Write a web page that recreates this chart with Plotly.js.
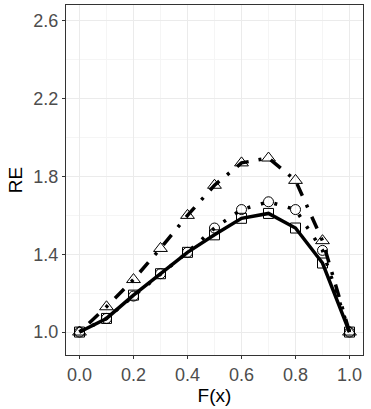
<!DOCTYPE html>
<html>
<head>
<meta charset="utf-8">
<script src="https://cdn.plot.ly/plotly-3.0.1.min.js"></script>
<style>
  html, body { margin: 0; padding: 0; background: #fff; }
  #plot { width: 371px; height: 409px; }
</style>
</head>
<body>
<div id="plot"></div>
<script>
// values
var fx = [0.0, 0.1, 0.2, 0.3, 0.4, 0.5, 0.6, 0.7, 0.8, 0.9, 1.0];
var reSquare   = [1.00, 1.07, 1.19, 1.30, 1.41, 1.50, 1.585, 1.61, 1.535, 1.355, 1.00];
var reCircle   = [1.00, 1.07, 1.185, 1.30, 1.41, 1.535, 1.63, 1.67, 1.63, 1.42, 1.00];
var reTriangle = [1.00, 1.13, 1.27, 1.43, 1.60, 1.755, 1.87, 1.895, 1.78, 1.47, 1.00];

var xTicks = [0.0, 0.2, 0.4, 0.6, 0.8, 1.0];
var xTickText = ["0.0", "0.2", "0.4", "0.6", "0.8", "1.0"];
var yTicks = [1.0, 1.4, 1.8, 2.2, 2.6];
var yTickText = ["1.0", "1.4", "1.8", "2.2", "2.6"];

function trace(y, dash, width, symbol, size) {
    return {
        x: fx,
        y: y,
        type: "scatter",
        mode: "lines+markers",
        line: { color: "#000", width: width, dash: dash },
        marker: {
            symbol: symbol,
            size: size,
            color: "#000",
            line: { color: "#000", width: 1 }
        },
        cliponaxis: false,
        showlegend: false
    };
}

var data = [
    trace(reSquare, "solid", 3.5, "square-open", 10),
    trace(reCircle, "3px,11px", 3.5, "circle-open", 10),
    trace(reTriangle, "3px,10px,13px,10px", 3.5, "triangle-up-open", 12)
];

var tickFont = { family: "Liberation Sans, Arial, sans-serif", size: 18, color: "#4D4D4D" };
var titleFont = { family: "Liberation Sans, Arial, sans-serif", size: 19, color: "#000" };

var layout = {
    width: 371,
    height: 409,
    margin: { l: 66, r: 8, t: 5, b: 54 },
    paper_bgcolor: "#fff",
    plot_bgcolor: "#fff",
    xaxis: {
        range: [-0.05, 1.05],
        tickvals: xTicks,
        ticktext: xTickText,
        tickfont: tickFont,
        ticks: "outside",
        ticklen: 3,
        tickcolor: "#333",
        showline: true,
        mirror: true,
        linecolor: "#333",
        linewidth: 1,
        showgrid: true,
        gridcolor: "#EBEBEB",
        gridwidth: 1,
        minor: { tickvals: [0.1, 0.3, 0.5, 0.7, 0.9], showgrid: true, gridcolor: "#F5F5F5", gridwidth: 1 },
        zeroline: false,
        title: { text: "F(x)", font: titleFont, standoff: 4 }
    },
    yaxis: {
        range: [0.882, 2.682],
        tickvals: yTicks,
        ticktext: yTickText,
        tickfont: tickFont,
        ticks: "outside",
        ticklen: 3,
        tickcolor: "#333",
        showline: true,
        mirror: true,
        linecolor: "#333",
        linewidth: 1,
        showgrid: true,
        gridcolor: "#EBEBEB",
        gridwidth: 1,
        minor: { tickvals: [1.2, 1.6, 2.0, 2.4], showgrid: true, gridcolor: "#F5F5F5", gridwidth: 1 },
        zeroline: false,
        title: { text: "RE", font: titleFont, standoff: 5 }
    }
};

Plotly.newPlot("plot", data, layout, { displayModeBar: false, staticPlot: true });
</script>
</body>
</html>
